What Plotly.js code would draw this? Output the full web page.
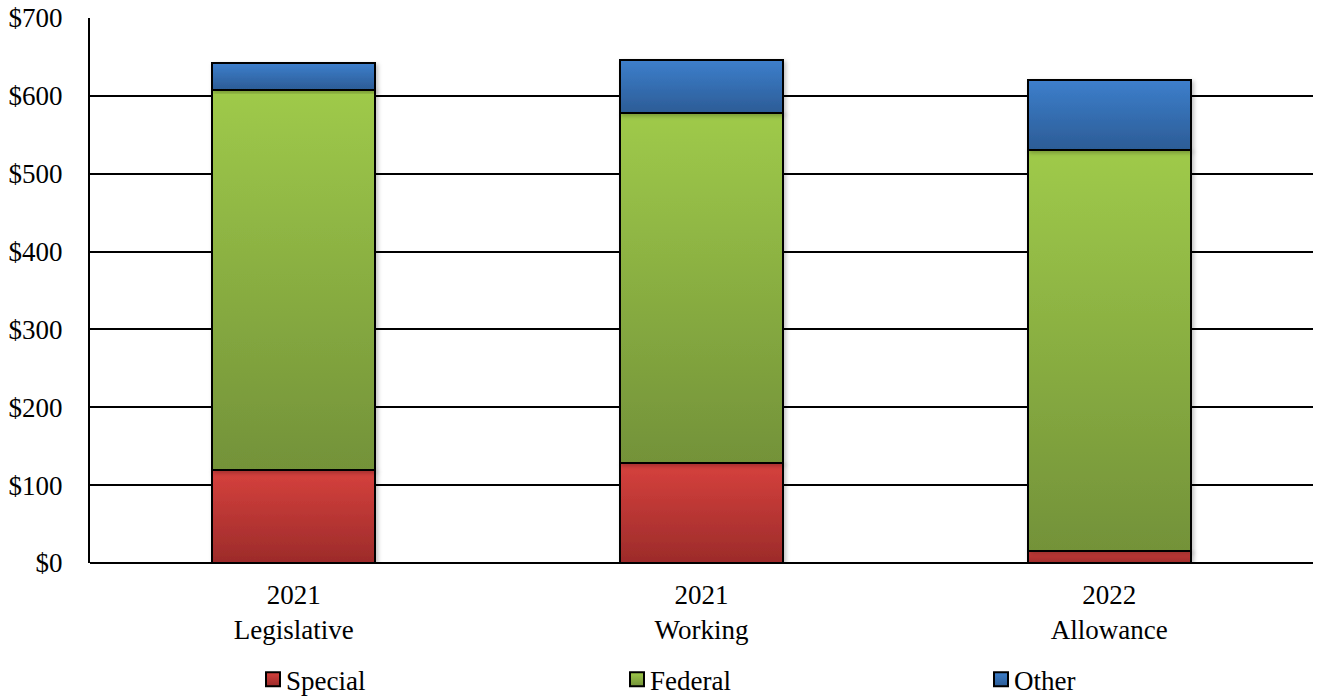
<!DOCTYPE html>
<html>
<head>
<meta charset="utf-8">
<script src="https://cdn.plot.ly/plotly-3.0.1.min.js"></script>
<style>
  html, body { margin: 0; padding: 0; background: #fff; }
  #chart { width: 1320px; height: 698px; }
</style>
</head>
<body>
<div id="chart"></div>
<script>
// Budget categories (two-line labels)
const categories = ["2021<br>Legislative", "2021<br>Working", "2022<br>Allowance"];

// Fund sources, in $ millions
const specialFunds = [119, 128, 16];
const federalFunds = [489, 450, 514];
const otherFunds   = [34, 68, 91];

const yTickValues = [0, 100, 200, 300, 400, 500, 600, 700];
const yTickLabels = ["$0", "$100", "$200", "$300", "$400", "$500", "$600", "$700"];

// Fill gradients: [top colour, bottom colour]
const gradients = {
  Special: ["#d6413d", "#9c2b2a"],
  Federal: ["#9fca4a", "#739239"],
  Other:   ["#3d7fcc", "#2c5c96"]
};

const font = { family: "Liberation Serif", size: 27, color: "#000" };

function barTrace(name, values) {
  return {
    type: "bar",
    name: name,
    x: categories,
    y: values,
    width: 0.4,
    marker: {
      color: gradients[name][0],
      line: { color: "#000", width: 2 }
    },
    hoverinfo: "skip"
  };
}

const data = [
  barTrace("Special", specialFunds),
  barTrace("Federal", federalFunds),
  barTrace("Other", otherFunds)
];

const layout = {
  width: 1320,
  height: 698,
  margin: { l: 90, r: 7, t: 18, b: 135, autoexpand: false },
  paper_bgcolor: "#fff",
  plot_bgcolor: "#fff",
  barmode: "stack",
  font: font,
  showlegend: true,
  legend: {
    orientation: "h",
    x: 0.1333, xanchor: "left",
    y: -0.214, yanchor: "middle",
    traceorder: "normal",
    entrywidth: 319,
    entrywidthmode: "pixels",
    font: font,
    itemclick: false
  },
  xaxis: {
    type: "category",
    showgrid: false,
    showline: false,
    zeroline: false,
    ticks: "",
    ticklabelstandoff: 13,
    tickfont: font,
    fixedrange: true
  },
  yaxis: {
    range: [0, 700],
    tickvals: yTickValues,
    ticktext: yTickLabels,
    showgrid: true,
    gridcolor: "#000",
    gridwidth: 2,
    showline: true,
    linecolor: "#000",
    linewidth: 2,
    zeroline: true,
    zerolinecolor: "#000",
    zerolinewidth: 2,
    ticks: "",
    ticklabelstandoff: 20,
    tickfont: font,
    fixedrange: true
  }
};

Plotly.newPlot("chart", data, layout, { staticPlot: true, displayModeBar: false }).then(function (gd) {
  // Vertical gradients and a soft shadow on the bars and legend swatches
  const svg = gd.querySelector("svg.main-svg");
  const NS = "http://www.w3.org/2000/svg";
  let defs = svg.querySelector("defs");
  if (!defs) { defs = document.createElementNS(NS, "defs"); svg.insertBefore(defs, svg.firstChild); }

  const filter = document.createElementNS(NS, "filter");
  filter.setAttribute("id", "barShadow");
  filter.setAttribute("x", "-10%"); filter.setAttribute("y", "-10%");
  filter.setAttribute("width", "125%"); filter.setAttribute("height", "125%");
  filter.innerHTML = '<feDropShadow dx="2" dy="2" stdDeviation="2" flood-color="#000" flood-opacity="0.25"/>';
  defs.appendChild(filter);

  Object.keys(gradients).forEach(function (name) {
    const g = document.createElementNS(NS, "linearGradient");
    g.setAttribute("id", "grad" + name);
    g.setAttribute("x1", "0"); g.setAttribute("y1", "0");
    g.setAttribute("x2", "0"); g.setAttribute("y2", "1");
    g.innerHTML = '<stop offset="0" stop-color="' + gradients[name][0] + '"/>' +
                  '<stop offset="1" stop-color="' + gradients[name][1] + '"/>';
    defs.appendChild(g);
  });

  const names = data.map(function (t) { return t.name; });
  gd.querySelectorAll(".barlayer .trace.bars").forEach(function (tr, i) {
    tr.querySelectorAll("path").forEach(function (p) {
      p.style.fill = "url(#grad" + names[i] + ")";
      p.setAttribute("filter", "url(#barShadow)");
    });
  });
  // Larger swatches sitting close to their labels
  gd.querySelectorAll(".legend .traces").forEach(function (tr, i) {
    tr.querySelectorAll(".legendpoints path").forEach(function (p) {
      p.style.fill = "url(#grad" + names[i] + ")";
      p.setAttribute("d", "M7,7H-7V-7H7Z");
      p.style.strokeWidth = "2px";
      p.style.stroke = "#000";
    });
    const t = tr.querySelector("text.legendtext");
    if (t) t.setAttribute("x", "33");
  });
});
</script>
</body>
</html>
